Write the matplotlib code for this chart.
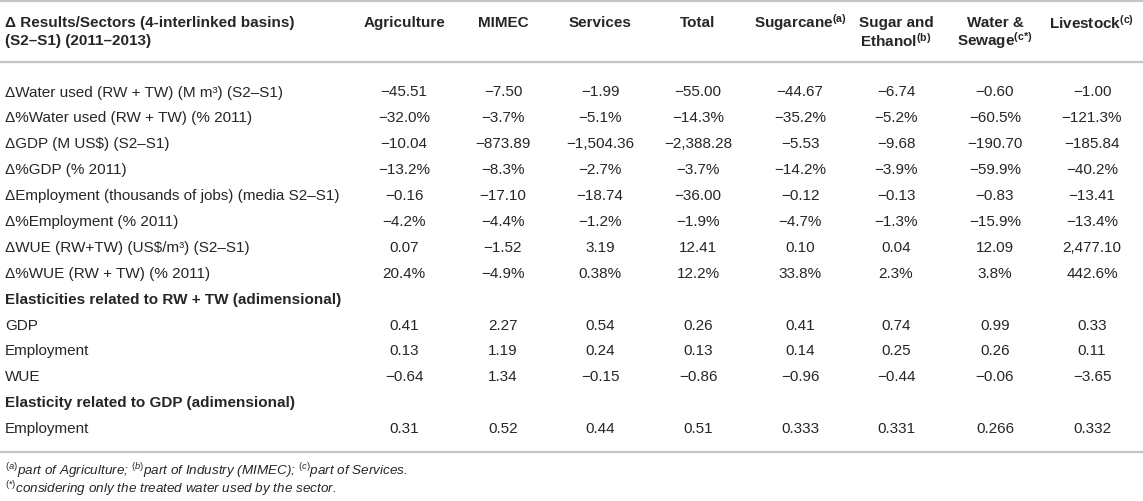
import matplotlib
matplotlib.use("Agg")
import matplotlib.pyplot as plt

plt.rcParams['font.family'] = ['Liberation Sans', 'DejaVu Sans']
plt.rcParams['mathtext.fontset'] = 'custom'
plt.rcParams['mathtext.rm'] = 'Liberation Sans'
plt.rcParams['mathtext.it'] = 'Liberation Sans:italic'
plt.rcParams['mathtext.bf'] = 'Liberation Sans:bold'

# table content
header_label = ["Δ Results/Sectors (4-interlinked basins)", "(S2–S1) (2011–2013)"]
col_headers = [
    ["Agriculture"],
    ["MIMEC"],
    ["Services"],
    ["Total"],
    [r"Sugarcane$^{\mathbf{(a)}}$"],
    ["Sugar and", r"Ethanol$^{\mathbf{(b)}}$"],
    ["Water &", r"Sewage$^{\mathbf{(c{*})}}$"],
    [r"Livestock$^{\mathbf{(c)}}$"],
]

row_labels = [
    "ΔWater used (RW + TW) (M m³) (S2–S1)",
    "Δ%Water used (RW + TW) (% 2011)",
    "ΔGDP (M US$) (S2–S1)",
    "Δ%GDP (% 2011)",
    "ΔEmployment (thousands of jobs) (media S2–S1)",
    "Δ%Employment (% 2011)",
    "ΔWUE (RW+TW) (US$/m³) (S2–S1)",
    "Δ%WUE (RW + TW) (% 2011)",
    "Elasticities related to RW + TW (adimensional)",
    "GDP",
    "Employment",
    "WUE",
    "Elasticity related to GDP (adimensional)",
    "Employment",
]
section_rows = [8, 12]

water_used = ["-45.51", "-7.50", "-1.99", "-55.00", "-44.67", "-6.74", "-0.60", "-1.00"]
water_used_pct = ["-32.0%", "-3.7%", "-5.1%", "-14.3%", "-35.2%", "-5.2%", "-60.5%", "-121.3%"]
gdp = ["-10.04", "-873.89", "-1,504.36", "-2,388.28", "-5.53", "-9.68", "-190.70", "-185.84"]
gdp_pct = ["-13.2%", "-8.3%", "-2.7%", "-3.7%", "-14.2%", "-3.9%", "-59.9%", "-40.2%"]
employment = ["-0.16", "-17.10", "-18.74", "-36.00", "-0.12", "-0.13", "-0.83", "-13.41"]
employment_pct = ["-4.2%", "-4.4%", "-1.2%", "-1.9%", "-4.7%", "-1.3%", "-15.9%", "-13.4%"]
wue = ["0.07", "-1.52", "3.19", "12.41", "0.10", "0.04", "12.09", "2,477.10"]
wue_pct = ["20.4%", "-4.9%", "0.38%", "12.2%", "33.8%", "2.3%", "3.8%", "442.6%"]
el_gdp = ["0.41", "2.27", "0.54", "0.26", "0.41", "0.74", "0.99", "0.33"]
el_employment = ["0.13", "1.19", "0.24", "0.13", "0.14", "0.25", "0.26", "0.11"]
el_wue = ["-0.64", "1.34", "-0.15", "-0.86", "-0.96", "-0.44", "-0.06", "-3.65"]
el_gdp_employment = ["0.31", "0.52", "0.44", "0.51", "0.333", "0.331", "0.266", "0.332"]

row_values = [water_used, water_used_pct, gdp, gdp_pct, employment, employment_pct,
              wue, wue_pct, None, el_gdp, el_employment, el_wue, None, el_gdp_employment]

footnotes = [
    r"$^{\mathit{(a)}}$part of Agriculture; $^{\mathit{(b)}}$part of Industry (MIMEC); $^{\mathit{(c)}}$part of Services.",
    r"$^{\mathit{({*})}}$considering only the treated water used by the sector.",
]

W, H = 1143, 502
fig = plt.figure(figsize=(W / 100, H / 100), dpi=100)
ax = fig.add_axes([0, 0, 1, 1])
ax.set_xlim(0, W)
ax.set_ylim(H, 0)
ax.axis('off')

txt = '#262626'
rule = '#c4c4c4'
fs = 11.0
col_x = [404, 503, 600, 698, 800, 896, 995, 1092]
label_x = 5
header_y = [23, 41]
row_y0, row_dy = 92.5, 25.9

for y in [2, 63, 453]:
    ax.plot([0, W], [y, y], color=rule, lw=1.6, solid_capstyle='butt')

for i, line in enumerate(header_label):
    ax.text(label_x, header_y[i], line, fontsize=fs, fontweight='bold', color=txt,
            ha='left', va='center')
for x, lines in zip(col_x, col_headers):
    for i, line in enumerate(lines):
        ax.text(x, header_y[i], line, fontsize=fs, fontweight='bold', color=txt,
                ha='center', va='center')

for r, (label, vals) in enumerate(zip(row_labels, row_values)):
    y = row_y0 + r * row_dy
    bold = r in section_rows
    ax.text(label_x, y, label, fontsize=fs, fontweight='bold' if bold else 'normal',
            color=txt, ha='left', va='center')
    if vals is None:
        continue
    for x, v in zip(col_x, vals):
        ax.text(x, y, v.replace('-', '\u2212'), fontsize=fs, color=txt,
                ha='center', va='center')

for i, note in enumerate(footnotes):
    ax.text(label_x, 471 + i * 18, note, fontsize=9.7, style='italic', color=txt,
            ha='left', va='center')

fig.savefig('out.png', dpi=100)
